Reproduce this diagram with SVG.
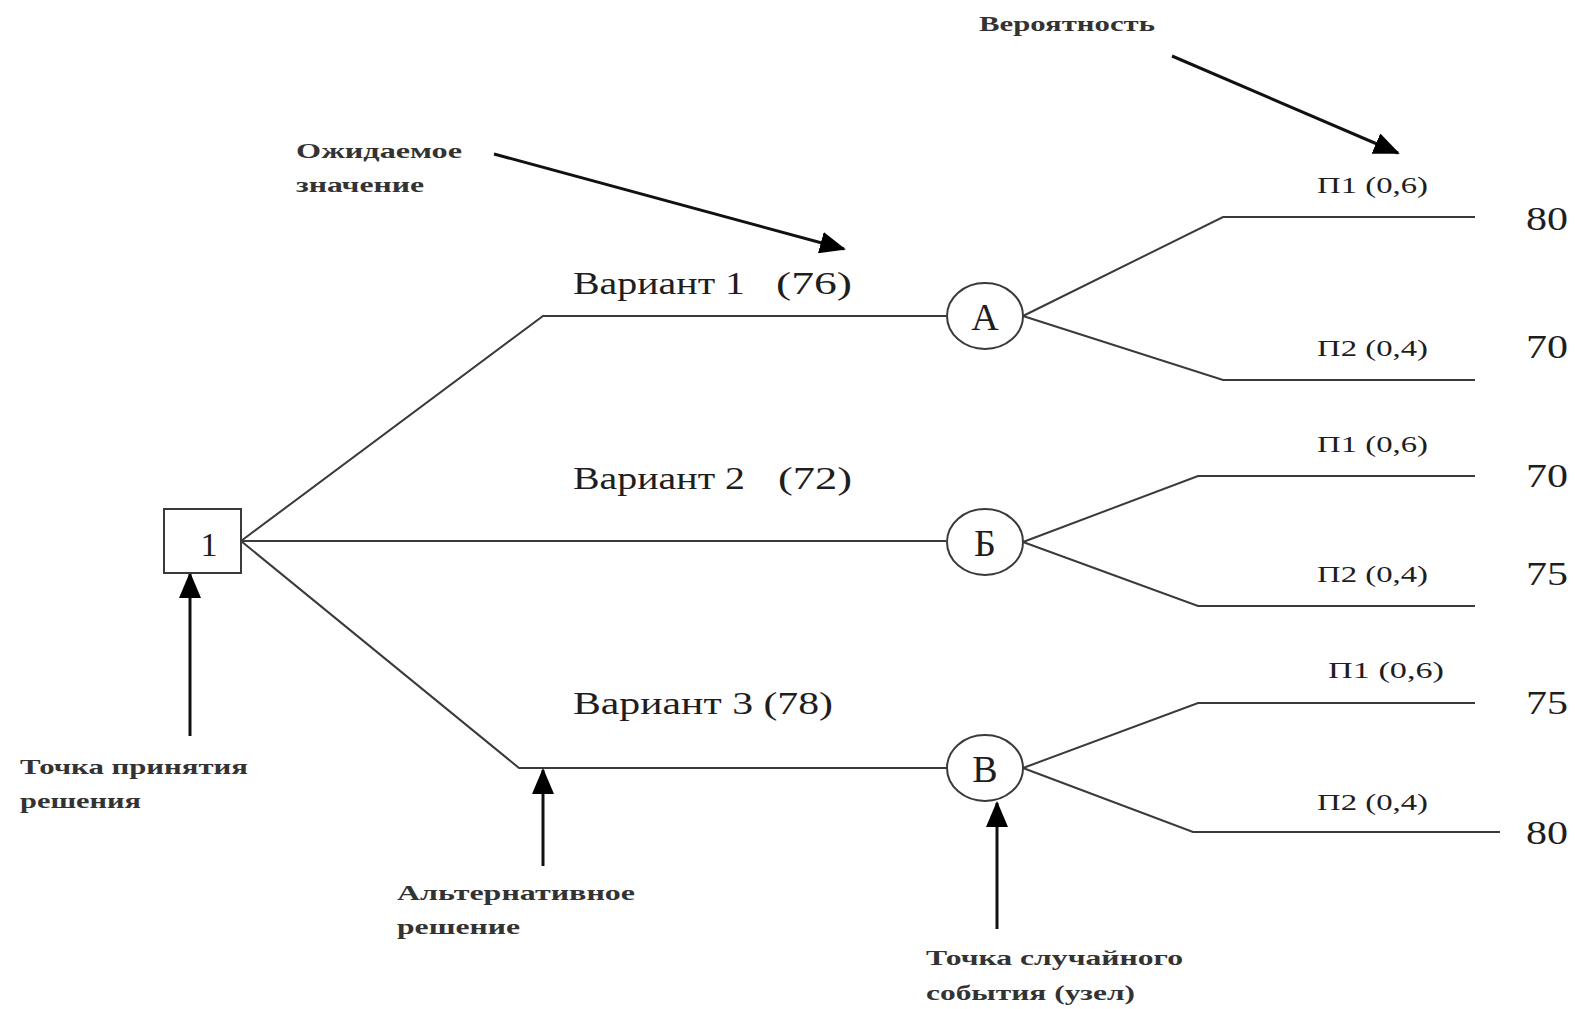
<svg xmlns="http://www.w3.org/2000/svg" width="1575" height="1009" viewBox="0 0 1575 1009">
<style>
.ln{fill:none;stroke:#3a3a3a;stroke-width:2}
.ar{fill:none;stroke:#111;stroke-width:3}
.nd{fill:#fff;stroke:#3a3a3a;stroke-width:2}
text{font-family:"Liberation Serif","DejaVu Serif",serif;fill:#1e1e1e}
.ann{font-size:21px;font-weight:bold;fill:#333}
.var{font-size:31px}
.pr{font-size:23px}
.val{font-size:33px}
.nl{font-size:38px;text-anchor:middle}
.one{font-size:34px;text-anchor:middle}
</style>
<defs>
<marker id="ah" markerUnits="userSpaceOnUse" markerWidth="26" markerHeight="22" refX="24" refY="11" orient="auto">
<path d="M0,0 L26,11 L0,22 Z" fill="#000"/>
</marker>
</defs>
<rect width="1575" height="1009" fill="#fff"/>
<g id="connectors">
<path class="ln" d="M241,541 L543,316 L946,316"/>
<path class="ln" d="M241,541 L946,541"/>
<path class="ln" d="M241,541 L519,768 L946,768"/>
<path class="ln" d="M1023,316 L1223,217 L1475,217"/>
<path class="ln" d="M1023,316 L1223,380 L1475,380"/>
<path class="ln" d="M1023,542 L1198,476 L1475,476"/>
<path class="ln" d="M1023,542 L1198,606 L1475,606"/>
<path class="ln" d="M1023,768 L1198,703 L1475,703"/>
<path class="ln" d="M1023,768 L1193,832 L1500,832"/>
<line class="ar" x1="1172" y1="56" x2="1398" y2="153" marker-end="url(#ah)"/>
<line class="ar" x1="494" y1="154" x2="844" y2="249" marker-end="url(#ah)"/>
<line class="ar" x1="190" y1="736" x2="190" y2="574" marker-end="url(#ah)"/>
<line class="ar" x1="543" y1="866" x2="543" y2="770" marker-end="url(#ah)"/>
<line class="ar" x1="997" y1="929" x2="997" y2="803" marker-end="url(#ah)"/>
</g>
<g id="node-1">
<rect class="nd" x="164" y="509" width="77" height="64"/>
<text class="one" x="209" y="556">1</text>
</g>
<g id="node-A">
<ellipse class="nd" cx="985" cy="316" rx="38" ry="33"/>
<text class="nl" x="985" y="330">А</text>
</g>
<g id="node-B6">
<ellipse class="nd" cx="985" cy="542" rx="38" ry="33"/>
<text class="nl" x="985" y="556">Б</text>
</g>
<g id="node-V">
<ellipse class="nd" cx="985" cy="768" rx="38" ry="33"/>
<text class="nl" x="985" y="782">В</text>
</g>
<g id="labels">
<text class="var" x="573" y="294" textLength="172" lengthAdjust="spacingAndGlyphs">Вариант 1</text>
<text class="var" x="776" y="294" textLength="76" lengthAdjust="spacingAndGlyphs">(76)</text>
<text class="var" x="573" y="489" textLength="172" lengthAdjust="spacingAndGlyphs">Вариант 2</text>
<text class="var" x="778" y="489" textLength="74" lengthAdjust="spacingAndGlyphs">(72)</text>
<text class="var" x="573" y="714" textLength="260" lengthAdjust="spacingAndGlyphs">Вариант 3 (78)</text>
<text class="pr" x="1317" y="193" textLength="111" lengthAdjust="spacingAndGlyphs">П1 (0,6)</text>
<text class="pr" x="1317" y="356" textLength="111" lengthAdjust="spacingAndGlyphs">П2 (0,4)</text>
<text class="pr" x="1317" y="452" textLength="111" lengthAdjust="spacingAndGlyphs">П1 (0,6)</text>
<text class="pr" x="1317" y="582" textLength="111" lengthAdjust="spacingAndGlyphs">П2 (0,4)</text>
<text class="pr" x="1328" y="678" textLength="116" lengthAdjust="spacingAndGlyphs">П1 (0,6)</text>
<text class="pr" x="1317" y="810" textLength="111" lengthAdjust="spacingAndGlyphs">П2 (0,4)</text>
<text class="val" x="1526" y="230" textLength="42" lengthAdjust="spacingAndGlyphs">80</text>
<text class="val" x="1526" y="358" textLength="42" lengthAdjust="spacingAndGlyphs">70</text>
<text class="val" x="1526" y="487" textLength="42" lengthAdjust="spacingAndGlyphs">70</text>
<text class="val" x="1526" y="585" textLength="42" lengthAdjust="spacingAndGlyphs">75</text>
<text class="val" x="1526" y="714" textLength="42" lengthAdjust="spacingAndGlyphs">75</text>
<text class="val" x="1526" y="844" textLength="42" lengthAdjust="spacingAndGlyphs">80</text>
<text class="ann" x="979" y="31" textLength="176" lengthAdjust="spacingAndGlyphs">Вероятность</text>
<text class="ann" x="296" y="158" textLength="166" lengthAdjust="spacingAndGlyphs">Ожидаемое</text>
<text class="ann" x="296" y="192" textLength="128" lengthAdjust="spacingAndGlyphs">значение</text>
<text class="ann" x="20" y="774" textLength="228" lengthAdjust="spacingAndGlyphs">Точка принятия</text>
<text class="ann" x="20" y="808" textLength="121" lengthAdjust="spacingAndGlyphs">решения</text>
<text class="ann" x="397" y="900" textLength="238" lengthAdjust="spacingAndGlyphs">Альтернативное</text>
<text class="ann" x="397" y="934" textLength="123" lengthAdjust="spacingAndGlyphs">решение</text>
<text class="ann" x="926" y="965" textLength="257" lengthAdjust="spacingAndGlyphs">Точка случайного</text>
<text class="ann" x="926" y="1000" textLength="209" lengthAdjust="spacingAndGlyphs">события (узел)</text>
</g>
</svg>
